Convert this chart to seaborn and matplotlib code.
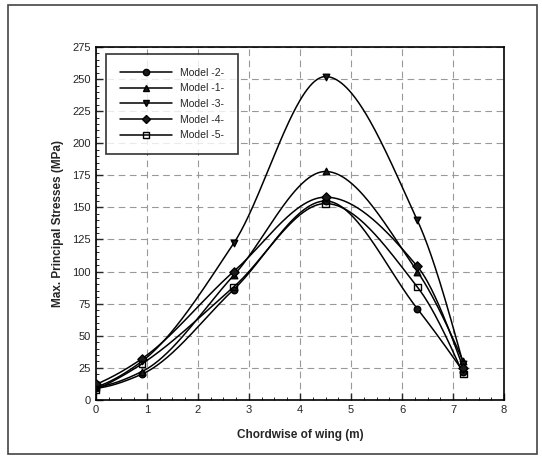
import numpy as np
import pandas as pd
import matplotlib
matplotlib.use("Agg")
import matplotlib.pyplot as plt
from matplotlib.lines import Line2D
import seaborn as sns

x_pos = [0.0, 0.9, 2.7, 4.5, 6.3, 7.2]
model_2 = [9, 20, 86, 155, 71, 22]
model_1 = [10, 22, 97, 178, 100, 30]
model_3 = [10, 30, 122, 252, 140, 28]
model_4 = [12, 32, 100, 158, 104, 25]
model_5 = [8, 28, 88, 153, 88, 20]
names = ["Model -2-", "Model -1-", "Model -3-", "Model -4-", "Model -5-"]
series = [model_2, model_1, model_3, model_4, model_5]
markers = ["o", "^", "v", "D", "s"]
fills = ["k", "k", "k", "k", "none"]


def pchip(xk, yk, xs):
    xk = np.asarray(xk, float); yk = np.asarray(yk, float)
    h = np.diff(xk); delta = np.diff(yk) / h
    n = len(xk)
    d = np.zeros(n)
    for k in range(1, n - 1):
        if delta[k - 1] * delta[k] > 0:
            w1 = 2 * h[k] + h[k - 1]; w2 = h[k] + 2 * h[k - 1]
            d[k] = (w1 + w2) / (w1 / delta[k - 1] + w2 / delta[k])
    d[0] = ((2 * h[0] + h[1]) * delta[0] - h[0] * delta[1]) / (h[0] + h[1])
    if np.sign(d[0]) != np.sign(delta[0]):
        d[0] = 0
    d[-1] = ((2 * h[-1] + h[-2]) * delta[-1] - h[-1] * delta[-2]) / (h[-1] + h[-2])
    if np.sign(d[-1]) != np.sign(delta[-1]):
        d[-1] = 0
    out = np.empty_like(xs)
    for j, xv in enumerate(xs):
        i = int(np.clip(np.searchsorted(xk, xv, side="right") - 1, 0, n - 2))
        t = (xv - xk[i]) / h[i]
        h00 = 2 * t**3 - 3 * t**2 + 1; h10 = t**3 - 2 * t**2 + t
        h01 = -2 * t**3 + 3 * t**2; h11 = t**3 - t**2
        out[j] = h00 * yk[i] + h10 * h[i] * d[i] + h01 * yk[i + 1] + h11 * h[i] * d[i + 1]
    return out


sns.set_theme(style="ticks")
plt.rcParams["font.family"] = ["Liberation Sans", "DejaVu Sans"]

fig = plt.figure(figsize=(5.42, 4.66), dpi=100)
ax = fig.add_axes([0.177, 0.142, 0.753, 0.757])

xs = np.linspace(0, 7.2, 300)
handles = []
for name, ys, mk, fc in zip(names, series, markers, fills):
    smooth = pd.DataFrame({"x": xs, "y": pchip(x_pos, ys, xs)})
    sns.lineplot(data=smooth, x="x", y="y", ax=ax, color="black", lw=1.1)
    pts = pd.DataFrame({"x": x_pos, "y": ys})
    sns.scatterplot(data=pts, x="x", y="y", ax=ax, marker=mk, s=22,
                    facecolor=fc, edgecolor="black", linewidth=1, zorder=5)
    handles.append(Line2D([], [], color="black", lw=1.1, marker=mk, ms=4.5,
                          mfc=fc, mec="black", label=name))

ax.set_xlim(0, 8)
ax.set_ylim(0, 275)
ax.set_xticks(range(0, 9))
ax.set_yticks(range(0, 276, 25))
ax.set_xticks(np.arange(0, 8.01, 0.25), minor=True)
ax.set_yticks(range(0, 276, 5), minor=True)
ax.grid(True, which="major", color="#999999", ls=(0, (6, 4)), lw=0.8)
ax.tick_params(which="major", direction="in", length=5, width=1, labelsize=8, top=False, right=False)
ax.tick_params(which="minor", direction="in", length=2.5, width=0.7)
for s in ax.spines.values():
    s.set_linewidth(1.2)
    s.set_color("black")
ax.set_xlabel("Chordwise of wing (m)", fontsize=8.5, fontweight="bold", labelpad=10)
ax.set_ylabel("Max. Principal Stresses (MPa)", fontsize=8.5, fontweight="bold", labelpad=6)

leg = ax.legend(handles=handles, loc="upper left", bbox_to_anchor=(0.012, 0.995),
                fontsize=7.5, frameon=True, fancybox=False, edgecolor="black",
                handlelength=5.0, labelspacing=0.55, borderpad=1.3, handletextpad=0.8)
leg.get_frame().set_linewidth(1.2)

fig.patches.append(plt.Rectangle((0.015, 0.025), 0.975, 0.965, transform=fig.transFigure,
                                 fill=False, edgecolor="#444444", lw=1.2))
fig.savefig("out.png", dpi=100)
